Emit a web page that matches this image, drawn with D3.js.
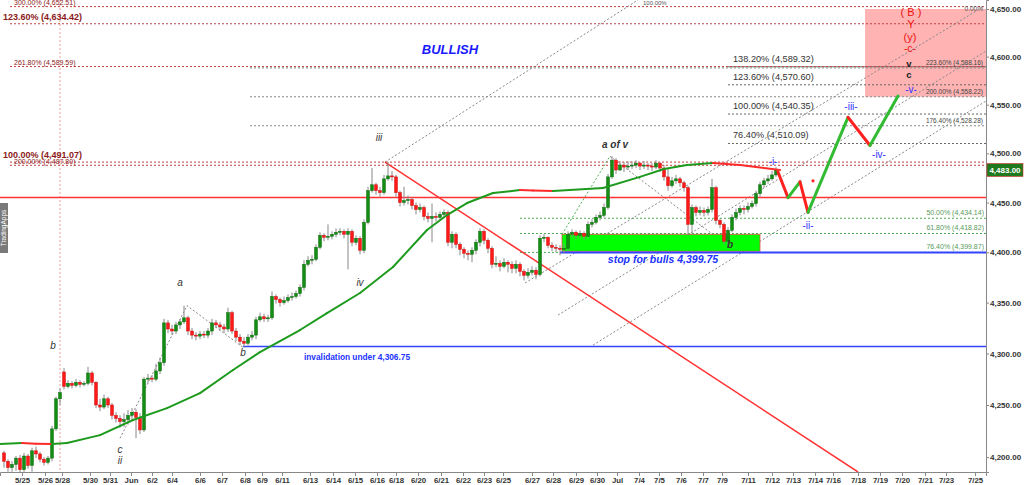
<!DOCTYPE html>
<html><head><meta charset="utf-8">
<script src="https://cdn.jsdelivr.net/npm/d3@7"></script>
<style>
body{margin:0;background:#fff}
svg{display:block}
text{font-family:"Liberation Sans",Arial,sans-serif}
</style></head>
<body><svg id="c" width="1024" height="485"></svg>
<script>
// ---------- DATA ----------
const closes=[4196,4190,4193,4199,4188,4201,4192,4206,4203,4198,4195,4199,4227,4256,4262,4268,4271,4269,4272,4270,4271,4281,4272,4250,4248,4256,4250,4240,4237,4234,4236,4240,4243,4238,4226,4275,4276,4275,4283,4291,4330,4324,4322,4328,4331,4335,4322,4318,4317,4319,4318,4322,4330,4328,4326,4324,4340,4322,4316,4312,4310,4316,4318,4333,4336,4334,4335,4356,4353,4350,4352,4355,4356,4359,4365,4388,4392,4393,4405,4417,4415,4416,4418,4420,4421,4418,4421,4410,4414,4402,4430,4462,4468,4462,4460,4474,4477,4476,4460,4450,4452,4453,4447,4443,4445,4436,4434,4436,4435,4438,4440,4410,4418,4408,4403,4399,4398,4402,4410,4421,4412,4404,4388,4389,4386,4390,4388,4384,4388,4381,4377,4380,4382,4378,4414,4415,4407,4405,4404,4403,4404,4418,4420,4417,4419,4416,4428,4430,4435,4437,4445,4476,4493,4483,4488,4486,4487,4488,4490,4487,4488,4487,4486,4490,4485,4476,4467,4472,4474,4470,4465,4428,4445,4440,4442,4440,4443,4465,4432,4428,4411,4422,4435,4440,4444,4443,4446,4449,4459,4468,4472,4474,4478,4483];
const highs=[4206,4198,4196,4201,4202,4204,4203,4209,4210,4205,4200,4201,4230,4258,4266,4286,4274,4273,4275,4274,4273,4287,4283,4273,4256,4260,4258,4252,4243,4240,4242,4245,4247,4246,4242,4277,4280,4279,4290,4296,4334,4333,4328,4331,4334,4347,4337,4325,4321,4322,4322,4325,4334,4333,4331,4329,4345,4342,4325,4319,4316,4319,4322,4336,4340,4339,4338,4361,4358,4355,4356,4358,4360,4362,4368,4392,4396,4397,4408,4420,4419,4428,4421,4424,4424,4423,4424,4423,4417,4416,4433,4466,4485,4470,4466,4478,4491,4482,4478,4462,4466,4457,4455,4450,4449,4447,4440,4449,4440,4441,4443,4442,4421,4420,4410,4405,4402,4405,4413,4424,4423,4414,4406,4396,4392,4394,4392,4391,4392,4390,4383,4384,4386,4385,4417,4418,4416,4410,4408,4407,4408,4421,4423,4422,4422,4421,4431,4433,4438,4441,4449,4479,4497,4495,4492,4491,4492,4492,4493,4491,4492,4490,4490,4493,4491,4488,4485,4476,4478,4476,4472,4467,4448,4447,4446,4445,4446,4474,4467,4434,4430,4425,4438,4444,4447,4447,4450,4452,4462,4471,4475,4478,4482,4486];
const lows=[4190,4186,4186,4187,4185,4186,4189,4186,4199,4195,4192,4193,4196,4225,4250,4265,4266,4266,4267,4267,4268,4269,4269,4247,4244,4246,4247,4236,4233,4228,4229,4231,4236,4218,4222,4224,4271,4272,4273,4280,4288,4320,4318,4319,4324,4329,4318,4314,4313,4314,4315,4315,4318,4325,4322,4320,4321,4319,4312,4308,4306,4308,4313,4314,4331,4331,4331,4333,4349,4346,4348,4350,4352,4354,4356,4362,4386,4388,4391,4403,4411,4412,4413,4415,4417,4414,4383,4406,4407,4398,4399,4428,4460,4458,4456,4458,4472,4472,4456,4446,4447,4448,4443,4438,4440,4432,4430,4410,4431,4432,4434,4406,4404,4404,4397,4394,4392,4390,4398,4406,4408,4399,4384,4385,4381,4384,4380,4379,4379,4376,4372,4374,4377,4373,4376,4410,4404,4401,4400,4397,4399,4402,4415,4413,4414,4412,4414,4425,4428,4432,4435,4443,4474,4479,4482,4481,4483,4484,4485,4483,4484,4483,4482,4484,4481,4472,4462,4465,4469,4466,4461,4417,4419,4436,4437,4436,4437,4440,4428,4424,4408,4406,4420,4432,4437,4438,4440,4444,4446,4456,4465,4469,4472,4476];
const openGaps={0:4204,15:4282};
const lastPrice=4483;

// moving average [barIndex, price]
const maPoints=[[-1,4212.4],[4.5,4213.4],[8,4212.8],[12,4212.4],[15.75,4213.4],[24,4221],[32.25,4235.5],[40.75,4247],[49,4261.5],[57.25,4283.9],[64,4301.4],[74,4323],[80.75,4339.7],[89,4359.5],[97.25,4385.3],[105.75,4422.3],[110.75,4437.4],[115.75,4449.5],[122.25,4459.6],[129,4462.6],[132.25,4462.2],[137.25,4461.6],[149.75,4464.7],[159,4476],[165,4484],[170.75,4488.1],[177.25,4490.1],[184,4488],[194,4483]];

// projected path [barIndex, price]
const projection=[[193.5,4481],[196,4455],[199,4471],[201,4440],[211,4537],[216.5,4508],[223.5,4559]];

// x ticks [label, barIndex]
const xTicks=[["5/25",4.5],["5/26",10.25],["5/28",14.5],["5/30",21.5],["5/31",26.5],["Jun",31.75],["6/2",37],["6/4",42],["6/6",49],["6/7",54.5],["6/8",60.25],["6/9",64.5],["6/11",69.5],["6/13",76.5],["6/14",82.25],["6/15",87.75],["6/16",93.25],["6/18",98],["6/20",103.5],["6/21",109.25],["6/22",114.75],["6/23",120],["6/25",124.75],["6/27",132],["6/28",137.25],["6/29",143],["6/30",148.25],["Jul",153.25],["7/4",158.75],["7/5",163.75],["7/6",169.25],["7/7",174.75],["7/9",179.5],["7/11",186],["7/12",192],["7/13",197.25],["7/14",202.75],["7/16",207.25],["7/18",213.5],["7/19",219],["7/20",224.5],["7/21",230.25],["7/23",235.5],["7/25",242.75]];
const yTicks=[4200,4250,4300,4350,4400,4450,4500,4550,4600,4650];

// left red fib levels
const redFibLabels=["300.00% (4,652.51)","123.60% (4,634.42)","261.80% (4,589.59)","100.00% (4,491.07)","200.00% (4,487.80)"];
const redFibPrices=[4652.51,4634.42,4589.59,4491.07,4487.80];
const redFibBold=[false,true,false,true,false];

// right short grey fib levels
const greyFibLabels=["138.20% (4,589.32)","123.60% (4,570.60)","100.00% (4,540.35)","76.40% (4,510.09)"];
const greyFibPrices=[4589.32,4570.60,4540.35,4510.09];
// long grey extension levels
const extLabels=["223.60% (4,588.16)","200.00% (4,558.22)","176.40% (4,528.28)"];
const extPrices=[4588.16,4558.22,4528.28];
// green retracement levels
const greenFibLabels=["50.00% (4,434.14)","61.80% (4,418.82)","76.40% (4,399.87)"];
const greenFibPrices=[4434.14,4418.82,4399.87];

const redLevel=4455;
const invalidation=4306.75;
const stopLevel=4399.75;

// channel lines [i1,p1,i2,p2]
const channels=[[95.25,4491,158.5,4659.5],[130.25,4369.4,244.75,4652.1],[138.5,4337.7,245.5,4605.8],[147.25,4308.2,245.5,4553.8]];
const trendLine=[95.25,4491,213.5,4185.8];
const waveConnectors=[[[29,4218],[45.75,4347],[59.75,4306]],[[151.5,4497],[180.75,4407]]];
const greenConnector=[[139.5,4418],[151.5,4497]];

// wave labels [text, barIndex, price, colour, size, weight, style]
const waveLabels=[
 ["iii",93.75,4515,"#333",10,"normal","italic"],
 ["a of v",152.75,4508,"#333",10,"bold","italic"],
 ["a",44,4369,"#333",10,"normal","italic"],
 ["b",12.25,4307,"#333",10,"normal","italic"],
 ["b",59.75,4300,"#333",10,"normal","italic"],
 ["c",29,4206,"#333",10,"normal","italic"],
 ["ii",29,4196,"#333",10,"normal","italic"],
 ["iv",89,4369,"#333",10,"normal","italic"],
 ["b",181.5,4407,"#333",10,"bold","italic"],
 ["-i-",192.25,4491,"#3333ff",10,"normal","normal"],
 ["-ii-",201,4426,"#3333ff",10,"normal","normal"],
 ["-iii-",211.75,4547,"#3333ff",10,"normal","normal"],
 ["-iv-",218.75,4498,"#3333ff",10,"normal","normal"],
 ["-v-",226.75,4565,"#3333ff",10,"normal","normal"],
 ["( B )",226.75,4646,"#ee1111",11,"normal","normal"],
 ["Y",226.75,4632.5,"#ee1111",11,"normal","normal"],
 ["(y)",226.5,4619.5,"#ee1111",11,"normal","normal"],
 ["-c-",226.5,4607.5,"#ee1111",10.5,"normal","normal"],
 ["v",226.25,4592,"#222",9.5,"bold","normal"],
 ["c",226.25,4580,"#222",9.5,"bold","normal"]
];
const pinkBox=[215.25,245.5,4558.22,4650];
const greenBox=[139.5,189,4401,4418];

// ---------- DRAW ----------
const plotR=986,plotB=472;
const svg=d3.select("#c");
const x=d3.scaleLinear().domain([-1,245.5]).range([0,plotR]);
const y=d3.scaleLog().domain([4185.8,4659.5]).range([plotB,0]);
const g=svg.append("g");
g.append("defs").append("clipPath").attr("id","clip").append("rect").attr("x",0).attr("y",0).attr("width",plotR).attr("height",plotB);
const P=g.append("g").attr("clip-path","url(#clip)");

// pink box
P.append("rect").attr("x",x(pinkBox[0])).attr("width",x(pinkBox[1])-x(pinkBox[0]))
 .attr("y",y(pinkBox[3])).attr("height",y(pinkBox[2])-y(pinkBox[3])).attr("fill","#ffb3b3");

// pink vertical dotted
P.append("line").attr("x1",x(14)).attr("x2",x(14)).attr("y1",0).attr("y2",plotB)
 .attr("stroke","#f0a0a0").attr("stroke-dasharray","2,2");

// red fib lines
redFibPrices.forEach((p,k)=>{
  P.append("line").attr("x1",x(1.5)).attr("x2",plotR).attr("y1",y(p)).attr("y2",y(p))
   .attr("stroke","#c04040").attr("stroke-dasharray","2,2").attr("stroke-width",1);
  P.append("text").attr("x",redFibBold[k]?3:14).attr("y",y(p)-(redFibBold[k]?4:1.5))
   .attr("font-size",redFibBold[k]?9:7).attr("font-weight",redFibBold[k]?"bold":"normal")
   .attr("fill","#8b1a1a").text(redFibLabels[k]);
});
// long ext lines
extPrices.forEach((p,k)=>{
  P.append("line").attr("x1",x(61.5)).attr("x2",plotR).attr("y1",y(p)).attr("y2",y(p))
   .attr("stroke","#888").attr("stroke-dasharray","2,2");
  P.append("text").attr("x",983).attr("y",y(p)-3).attr("text-anchor","end").attr("font-size",6.5).attr("fill","#444").text(extLabels[k]);
});
// short grey fib
greyFibPrices.forEach((p,k)=>{
  P.append("line").attr("x1",x(181)).attr("x2",plotR).attr("y1",y(p)).attr("y2",y(p))
   .attr("stroke","#666").attr("stroke-dasharray","2,2");
  P.append("text").attr("x",733).attr("y",y(p)-5).attr("font-size",9.2).attr("fill","#333").text(greyFibLabels[k]);
});
P.append("text").attr("x",983).attr("y",11).attr("text-anchor","end").attr("font-size",6.5).attr("fill","#555").text("0.00%");
P.append("text").attr("x",643).attr("y",5).attr("font-size",6).attr("fill","#555").text("100.00%");
// green fib
greenFibPrices.forEach((p,k)=>{
  P.append("line").attr("x1",x(129)).attr("x2",plotR).attr("y1",y(p)).attr("y2",y(p))
   .attr("stroke","#4caf50").attr("stroke-dasharray","2,2");
  P.append("text").attr("x",984).attr("y",y(p)-3).attr("text-anchor","end").attr("font-size",7).attr("fill","#5a9a5a").text(greenFibLabels[k]);
});
// channels
channels.forEach(c=>{
  P.append("line").attr("x1",x(c[0])).attr("y1",y(c[1])).attr("x2",x(c[2])).attr("y2",y(c[3]))
   .attr("stroke","#888").attr("stroke-dasharray","2,2");
});
// wave connectors
const lineGen=d3.line().x(d=>x(d[0])).y(d=>y(d[1]));
waveConnectors.forEach(w=>P.append("path").attr("d",lineGen(w)).attr("fill","none").attr("stroke","#888").attr("stroke-dasharray","2,2"));
P.append("path").attr("d",lineGen(greenConnector)).attr("fill","none").attr("stroke","#4caf50").attr("stroke-dasharray","2,2");

// green box
P.append("rect").attr("x",x(greenBox[0])).attr("width",x(greenBox[1])-x(greenBox[0]))
 .attr("y",y(greenBox[3])).attr("height",y(greenBox[2])-y(greenBox[3]))
 .attr("fill","#00ff00").attr("stroke","#e05050").attr("stroke-width",0.8);

// horizontal solid lines
P.append("line").attr("x1",0).attr("x2",plotR).attr("y1",y(redLevel)).attr("y2",y(redLevel)).attr("stroke","#ff3333").attr("stroke-width",1.5);
P.append("line").attr("x1",x(59.75)).attr("x2",plotR).attr("y1",y(invalidation)).attr("y2",y(invalidation)).attr("stroke","#3344ff").attr("stroke-width",1.5);
P.append("line").attr("x1",x(139)).attr("x2",plotR).attr("y1",y(stopLevel)).attr("y2",y(stopLevel)).attr("stroke","#3344ff").attr("stroke-width",2);

// red trend line
P.append("line").attr("x1",x(trendLine[0])).attr("y1",y(trendLine[1])).attr("x2",x(trendLine[2])).attr("y2",y(trendLine[3])).attr("stroke","#ff3333").attr("stroke-width",1.5);

// candles
const bw=3;
closes.forEach((c,i)=>{
  const o=(openGaps[i]!==undefined)?openGaps[i]:closes[i-1];
  const up=c>=o;
  const cx=x(i);
  P.append("line").attr("x1",cx).attr("x2",cx).attr("y1",y(highs[i])).attr("y2",y(lows[i])).attr("stroke","#888").attr("stroke-width",1);
  const top=y(Math.max(o,c)),bot=y(Math.min(o,c));
  P.append("rect").attr("x",cx-bw/2).attr("width",bw).attr("y",top).attr("height",Math.max(1,bot-top))
   .attr("fill",up?"#138d13":"#ff1a1a").attr("stroke",up?"#0d6b0d":"#d01010").attr("stroke-width",0.5);
});

// moving average, coloured by slope
for(let k=0;k<maPoints.length-1;k++){
  const a=maPoints[k],b=maPoints[k+1];
  P.append("path").attr("d",lineGen([a,b])).attr("fill","none")
   .attr("stroke",b[1]<a[1]?"#ff2a2a":"#1e9b1e").attr("stroke-width",2).attr("stroke-linecap","round");
}
// projection
for(let k=0;k<projection.length-1;k++){
  const a=projection[k],b=projection[k+1];
  P.append("path").attr("d",lineGen([a,b])).attr("fill","none")
   .attr("stroke",b[1]<a[1]?"#ff2020":"#33bb33").attr("stroke-width",3).attr("stroke-linecap","round");
}
P.append("circle").attr("cx",x(202.25)).attr("cy",y(4472)).attr("r",1.6).attr("fill","#ff2020");

// text labels
waveLabels.forEach(l=>{
  P.append("text").attr("x",x(l[1])).attr("y",y(l[2])).attr("text-anchor","middle").attr("dominant-baseline","middle")
   .attr("fill",l[3]).attr("font-size",l[4]).attr("font-weight",l[5]).attr("font-style",l[6]).text(l[0]);
});
P.append("text").attr("x",x(111.5)).attr("y",y(4606)).attr("text-anchor","middle").attr("dominant-baseline","middle")
 .attr("fill","#1a1aff").attr("font-size",13).attr("font-weight","bold").attr("font-style","italic").text("BULLISH");
P.append("text").attr("x",x(164.75)).attr("y",y(4392)).attr("text-anchor","middle").attr("dominant-baseline","middle")
 .attr("fill","#2233ff").attr("font-size",10.5).attr("font-weight","bold").attr("font-style","italic").text("stop for bulls 4,399.75");
P.append("text").attr("x",x(88.25)).attr("y",y(4296)).attr("text-anchor","middle").attr("dominant-baseline","middle")
 .attr("fill","#2233ff").attr("font-size",8.3).attr("font-weight","bold").text("invalidation under 4,306.75");

// TradingApps tab
svg.append("rect").attr("x",0).attr("y",203).attr("width",8).attr("height",50).attr("fill","#7a7a7a");
svg.append("text").attr("transform","translate(6,228) rotate(-90)").attr("text-anchor","middle").attr("font-size",6.5).attr("fill","#fff").text("TradingApps");

// axes
const yAxis=d3.axisRight(y).tickValues(yTicks).tickSize(3).tickFormat(d3.format(",.2f"));
const ya=svg.append("g").attr("transform",`translate(${plotR},0)`).call(yAxis);
ya.select(".domain").attr("stroke","#888");
ya.selectAll(".tick line").attr("stroke","#888");
ya.selectAll(".tick text").attr("font-size",8).attr("font-weight","bold").attr("fill","#333").attr("x",4).attr("font-family","Liberation Sans, Arial, sans-serif");

const xAxis=d3.axisBottom(x).tickValues(xTicks.map(d=>d[1])).tickSize(4).tickFormat((d,i)=>xTicks[i][0]);
const xa=svg.append("g").attr("transform",`translate(0,${plotB})`).call(xAxis);
xa.select(".domain").attr("stroke","#888");
xa.selectAll(".tick line").attr("stroke","#888");
xa.selectAll(".tick text").attr("font-size",7.8).attr("font-weight","bold").attr("fill","#333").attr("y",5).attr("font-family","Liberation Sans, Arial, sans-serif");

// last price tag
const lp=svg.append("g").attr("transform",`translate(${plotR+1},${y(lastPrice)})`);
lp.append("rect").attr("x",0).attr("y",-6.5).attr("width",36).attr("height",13).attr("fill","#1f7a1f").attr("stroke","#e03030").attr("stroke-width",0.6);
lp.append("text").attr("x",18).attr("y",0.5).attr("text-anchor","middle").attr("dominant-baseline","middle").attr("font-size",8).attr("font-weight","bold").attr("fill","#fff").text("4,483.00");
</script></body></html>
